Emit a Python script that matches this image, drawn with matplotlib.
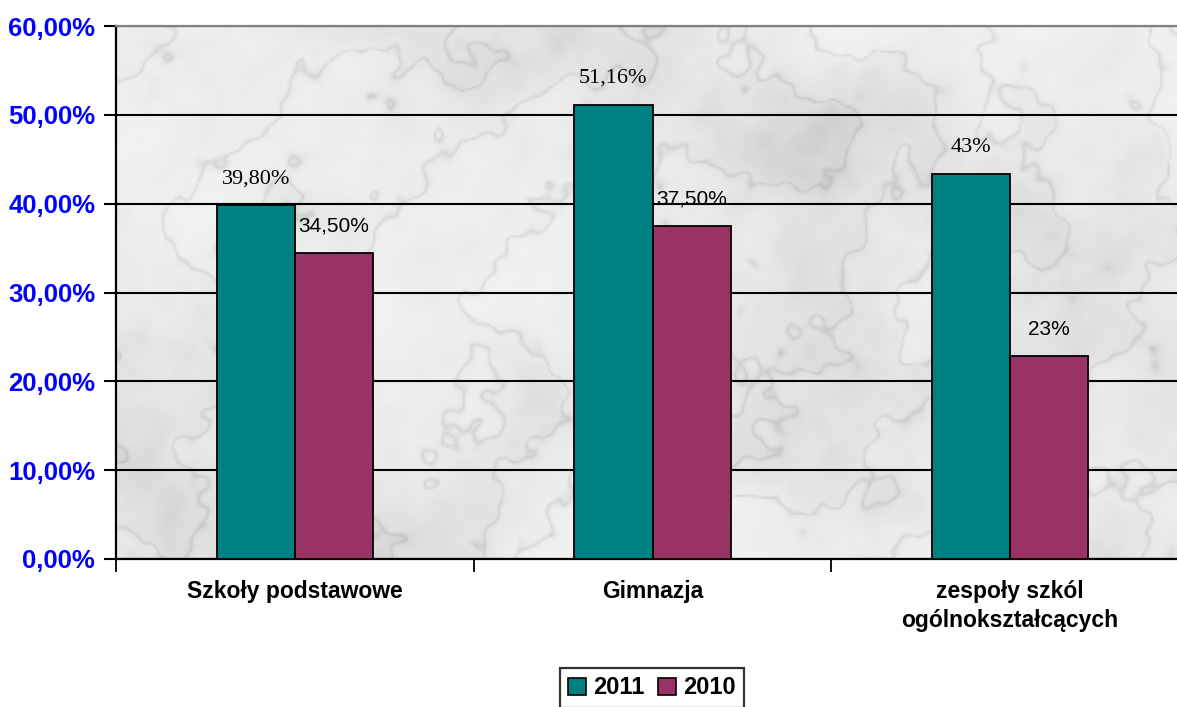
import numpy as np
import matplotlib
matplotlib.use("Agg")
import matplotlib.pyplot as plt
from matplotlib.patches import Patch

categories = ["Szkoły podstawowe", "Gimnazja", "zespoły szkól\nogólnokształcących"]
series_names = ["2011", "2010"]
values_2011 = [39.80, 51.16, 43.3]
values_2010 = [34.50, 37.50, 22.9]
labels_2011 = ["39,80%", "51,16%", "43%"]
labels_2010 = ["34,50%", "37,50%", "23%"]
yticks = [0, 10, 20, 30, 40, 50, 60]
ytick_labels = ["0,00%", "10,00%", "20,00%", "30,00%", "40,00%", "50,00%", "60,00%"]

C_2011 = "#008080"
C_2010 = "#993366"

W, H = 1177, 707
fig = plt.figure(figsize=(W / 100, H / 100), dpi=100)
ax = fig.add_axes([116 / W, 148 / H, 1073 / W, 533 / H])

# marble-like background texture (deterministic, decorative)
ny, nx = 300, 600
yy, xx = np.mgrid[0:ny, 0:nx] / 50.0
clouds = np.zeros_like(xx)
dirs = [(1.0, 0.35), (0.6, -0.8), (-0.3, 1.0), (0.9, 0.9), (1.0, -0.2), (0.2, 0.7)]
freqs = [0.9, 1.7, 3.1, 5.3, 8.9, 14.3, 23.0]
for i, f in enumerate(freqs):
    for j, (dx, dy) in enumerate(dirs):
        ph = (i * 1.37 + j * 2.71) % 6.28
        clouds += np.sin(f * (dx * xx + dy * yy) + ph + 0.8 * np.sin(f * 0.5 * (dy * xx - dx * yy))) / (f ** 0.75)
clouds = (clouds - clouds.min()) / (clouds.max() - clouds.min())
veins = np.abs(np.sin((xx * 0.8 + yy * 0.5) * 2.0 + clouds * 9.0))
tex = 0.95 - 0.14 * (1 - clouds) ** 2 - 0.10 * (1 - veins) ** 10
ax.imshow(tex, extent=(-0.5, 2.5, 0, 60), aspect="auto", cmap="gray",
          vmin=0, vmax=1, zorder=0, interpolation="bilinear")

x = np.arange(len(categories))
bw = 0.2185
b1 = ax.bar(x - bw / 2, values_2011, bw, color=C_2011, edgecolor="black", linewidth=1.3, zorder=3)
b2 = ax.bar(x + bw / 2, values_2010, bw, color=C_2010, edgecolor="black", linewidth=1.3, zorder=3)

for xi, v, lab in zip(x, values_2011, labels_2011):
    ax.annotate(lab, (xi - bw / 2, v), xytext=(0, 19), textcoords="offset points",
                ha="center", va="center", fontsize=16, family="Liberation Serif", zorder=4)
for xi, v, lab in zip(x, values_2010, labels_2010):
    ax.annotate(lab, (xi + bw / 2, v), xytext=(0, 19), textcoords="offset points",
                ha="center", va="center", fontsize=15, family="Liberation Sans", zorder=4)

ax.set_xlim(-0.5, 2.5)
ax.set_ylim(0, 60)
ax.set_yticks(yticks)
ax.set_yticklabels(ytick_labels, fontsize=18.5, fontweight="bold", color="#0000ff",
                   family="Liberation Sans")
ax.yaxis.grid(True, color="black", linewidth=1.5, zorder=1)
ax.set_axisbelow(True)
ax.tick_params(axis="y", length=9, width=1.5, direction="out", pad=6)

ax.set_xticks([-0.5, 0.5, 1.5, 2.5])
ax.set_xticklabels([])
ax.tick_params(axis="x", which="major", length=9, width=1.3, direction="out")
ax.set_xticks(x, minor=True)
ax.set_xticklabels(categories, minor=True, fontsize=16.5, fontweight="bold",
                   family="Liberation Sans", linespacing=1.35)
ax.tick_params(axis="x", which="minor", length=0, pad=15)

for s in ["left", "bottom"]:
    ax.spines[s].set_linewidth(1.6)
    ax.spines[s].set_color("black")
ax.spines["top"].set_color("#808080")
ax.spines["top"].set_linewidth(1.6)
ax.spines["right"].set_visible(False)

handles = [Patch(facecolor=C_2011, edgecolor="black", linewidth=1.2),
           Patch(facecolor=C_2010, edgecolor="black", linewidth=1.2)]
leg = fig.legend(handles, series_names, loc="center", bbox_to_anchor=(652 / W, 1 - 688 / H),
                 ncol=2, frameon=True, fancybox=False, edgecolor="black",
                 prop={"family": "Liberation Sans", "weight": "bold", "size": 17},
                 handlelength=0.75, handleheight=0.75, handletextpad=0.3,
                 columnspacing=0.6, borderpad=0.35, borderaxespad=0)
leg.get_frame().set_linewidth(1.6)

fig.savefig("out.png", dpi=100)
